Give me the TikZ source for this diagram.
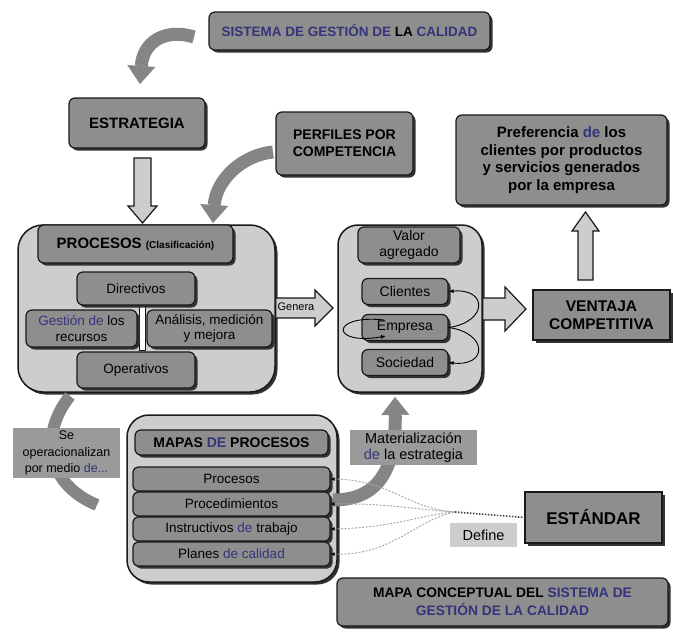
\documentclass[tikz,border=0pt]{standalone}
\usepackage{fontspec}
\setmainfont{Liberation Sans}
\usetikzlibrary{shadows,arrows.meta}
\definecolor{boxgray}{HTML}{8E8E8E}
\definecolor{lightgray2}{HTML}{CDCDCD}
\definecolor{labelgray}{HTML}{9A9A9A}
\definecolor{navy}{HTML}{34347A}
\definecolor{bandgray}{HTML}{858585}
\begin{document}
\begin{tikzpicture}[x=1pt,y=-1pt]
\tikzset{
  shadowed/.style={drop shadow={shadow xshift=2.5pt,shadow yshift=-2.5pt,fill=black!80,opacity=1}},
  box/.style={draw=black!90,line width=1.2pt,rounded corners=6pt,fill=boxgray,shadowed,align=center,inner sep=1pt,text=black},
  sqbox/.style={box,rounded corners=0pt},
  container/.style={draw=black!90,line width=1.5pt,rounded corners=22pt,fill=lightgray2,shadowed,inner sep=0pt},
  hfont/.style={font=\bfseries\fontsize{14}{17}\selectfont},
  nfont/.style={font=\fontsize{13.5}{15.5}\selectfont},
  vfont/.style={font=\fontsize{14}{16}\selectfont},
  lbl/.style={fill=labelgray,align=center,inner sep=1pt},
  bandline/.style={draw=bandgray,line width=13pt},
  bandtip/.style={-{Triangle[length=18pt,width=28pt,line width=0.4pt]}},
  blockarrow/.style={draw=black!90,line width=1.2pt,fill=lightgray2,line join=miter},
  cyc/.style={draw=black,line width=0.9pt,-{Latex[length=5pt,width=4pt]}},
  dashcon/.style={draw=gray!65,line width=1pt,dash pattern=on 2pt off 1.5pt},
}
\fill[white] (0,0) rectangle (673,632);
\useasboundingbox (0,0) rectangle (673,632);

% top boxes
\node[box,font=\bfseries\fontsize{13.5}{15}\selectfont,minimum width=281pt,minimum height=38pt] (sgc) at (349.5,31)
  {{\color{navy}SISTEMA DE GESTIÓN DE} LA {\color{navy}CALIDAD}};
\node[box,font=\bfseries\fontsize{15}{17}\selectfont,minimum width=136pt,minimum height=50pt] (estr) at (137,123) {ESTRATEGIA};
\node[box,hfont,minimum width=137pt,minimum height=63pt] (perf) at (344.5,143.5) {PERFILES POR\\COMPETENCIA};
\node[box,font=\bfseries\fontsize{15}{17.5}\selectfont,minimum width=211pt,minimum height=90pt] (pref) at (561.5,160)
  {Preferencia {\color{navy}de} los\\clientes por productos\\y servicios generados\\por la empresa};

% curved arrows at top
\coordinate (a1s) at (194,37);
\coordinate (a1e) at (140,84);
\draw[bandline,bandtip] (a1s) .. controls (165,28) and (143,42) .. (a1e);
\coordinate (a2s) at (273,152);
\coordinate (a2e) at (213,223);
\draw[bandline,bandtip] (a2s) .. controls (242,155) and (216,180) .. (a2e);

% containers
\node[container,minimum width=257pt,minimum height=167pt,rounded corners=25pt] (procC) at (146.5,308.5) {};
\node[container,minimum width=144pt,minimum height=167pt,rounded corners=20pt] (valC) at (410,308.5) {};

% down arrow estrategia -> procesos
\draw[blockarrow] (134,158) -- (151,158) -- (151,206) -- (157,206) -- (142.5,223) -- (128,206) -- (134,206) -- cycle;
% up arrow to preferencia
\draw[blockarrow] (578,280) -- (593,280) -- (593,231) -- (599,231) -- (585.5,212) -- (572,231) -- (578,231) -- cycle;

% procesos inner
\node[box,minimum width=195pt,minimum height=38pt] (procH) at (135.5,244)
  {\bfseries\fontsize{15}{17}\selectfont PROCESOS {\fontsize{10}{11}\selectfont (Clasificación)}};
\node[draw=black!90,line width=0.8pt,fill=white,minimum width=6pt,minimum height=44pt,inner sep=0pt] (gap) at (142,328) {};
\node[box,nfont,minimum width=118pt,minimum height=33pt] (dir) at (136,288.5) {Directivos};
\node[box,nfont,minimum width=111pt,minimum height=37pt] (gest) at (81.5,328.5) {{\color{navy}Gestión de} los\\recursos};
\node[box,nfont,minimum width=125pt,minimum height=37pt] (anal) at (209.5,328.5) {Análisis, medición\\y mejora};
\node[box,nfont,minimum width=118pt,minimum height=36pt] (oper) at (136,370) {Operativos};

% genera arrow
\draw[blockarrow] (procC.east |- 0,298) -- (315,298) -- (315,290) -- (333,308) -- (315,326) -- (315,318) -- (procC.east |- 0,318) -- cycle;
\node[font=\fontsize{11}{12}\selectfont,inner sep=0pt] (gen) at (296,307) {Genera};

% valor inner
\node[box,vfont,minimum width=102pt,minimum height=36pt] (valH) at (409,245) {Valor\\agregado};
\node[box,vfont,minimum width=86pt,minimum height=26pt] (cli) at (405,291.5) {Clientes};
\node[box,vfont,minimum width=86pt,minimum height=26pt] (emp) at (405,327.5) {Empresa};
\node[box,vfont,minimum width=86pt,minimum height=26pt] (soc) at (405,362.5) {Sociedad};
\draw[cyc] (emp.east) .. controls (488,322) and (488,288) .. (cli.east);
\draw[cyc] (emp.east) .. controls (488,333) and (488,367) .. (soc.east);
\draw[cyc] (384,320) .. controls (330,314) and (330,346) .. (386,336);

% big arrow to ventaja
\draw[blockarrow] (valC.east |- 0,298) -- (505,298) -- (505,287) -- (526,309) -- (505,331) -- (505,320) -- (valC.east |- 0,320) -- cycle;
\node[sqbox,font=\bfseries\fontsize{15.5}{18}\selectfont,minimum width=137pt,minimum height=50pt] (vent) at (601.5,315) {VENTAJA\\COMPETITIVA};

% se operacionalizan band
\coordinate (b1s) at (70,396);
\coordinate (b1e) at (97,505);
\draw[bandline,line width=12pt] (b1s) .. controls (42,430) and (42,482) .. (b1e);
\node[lbl,font=\fontsize{12.5}{16.5}\selectfont,minimum width=107pt,minimum height=50pt] (seop) at (66.5,453)
  {Se\\operacionalizan\\por medio {\color{navy}de...}};

% mapas
\node[container,minimum width=210pt,minimum height=167pt] (mapC) at (232,498.5) {};
\node[box,hfont,minimum width=193pt,minimum height=25pt] (mapH) at (231.5,442.5) {MAPAS {\color{navy}DE} PROCESOS};
\node[box,nfont,rounded corners=5pt,minimum width=197pt,minimum height=24pt] (r1) at (231.5,479) {Procesos};
\node[box,nfont,rounded corners=5pt,minimum width=197pt,minimum height=24pt] (r2) at (231.5,504) {Procedimientos};
\node[box,nfont,rounded corners=5pt,minimum width=197pt,minimum height=24pt] (r3) at (231.5,529) {Instructivos {\color{navy}de} trabajo};
\node[box,nfont,rounded corners=5pt,minimum width=197pt,minimum height=24pt] (r4) at (231.5,554) {Planes {\color{navy}de calidad}};

% materializacion band
\coordinate (b2s) at (333,500);
\coordinate (b2e) at (395,397);
\draw[bandline,bandtip] (b2s) .. controls (378,500) and (396,470) .. (b2e);
\node[lbl,font=\fontsize{14.5}{15.5}\selectfont,minimum width=127pt,minimum height=35pt] (mat) at (413.5,447.5)
  {Materialización\\{\color{navy}de} la estrategia};

% estandar and define
\node[sqbox,font=\bfseries\fontsize{17}{19}\selectfont,minimum width=137pt,minimum height=51pt] (est) at (593.5,517.5) {ESTÁNDAR};
\node[fill=lightgray2,font=\fontsize{14.5}{16}\selectfont,minimum width=67pt,minimum height=24pt,inner sep=0pt] (def) at (483.5,535) {Define};
\coordinate (conv) at (455,512);
\draw[dashcon,{Latex[length=4pt,width=4pt,color=black]}-] (r1.east) .. controls (392,480) and (405,508) .. (conv);
\draw[dashcon,{Latex[length=4pt,width=4pt,color=black]}-] (r2.east) .. controls (385,503) and (420,510) .. (conv);
\draw[dashcon,{Latex[length=4pt,width=4pt,color=black]}-] (r3.east) .. controls (392,528) and (420,515) .. (conv);
\draw[dashcon,{Latex[length=4pt,width=4pt,color=black]}-] (r4.east) .. controls (392,556) and (415,520) .. (conv);
\draw[draw=black!75,line width=1.6pt,dash pattern=on 1.5pt off 1.5pt] (conv) -- (est.west);

% bottom title
\node[box,font=\bfseries\fontsize{13.8}{18}\selectfont,minimum width=331pt,minimum height=48pt] (title) at (502.5,602)
  {MAPA CONCEPTUAL DEL {\color{navy}SISTEMA DE}\\{\color{navy}GESTIÓN DE LA CALIDAD}};
\end{tikzpicture}
\end{document}
